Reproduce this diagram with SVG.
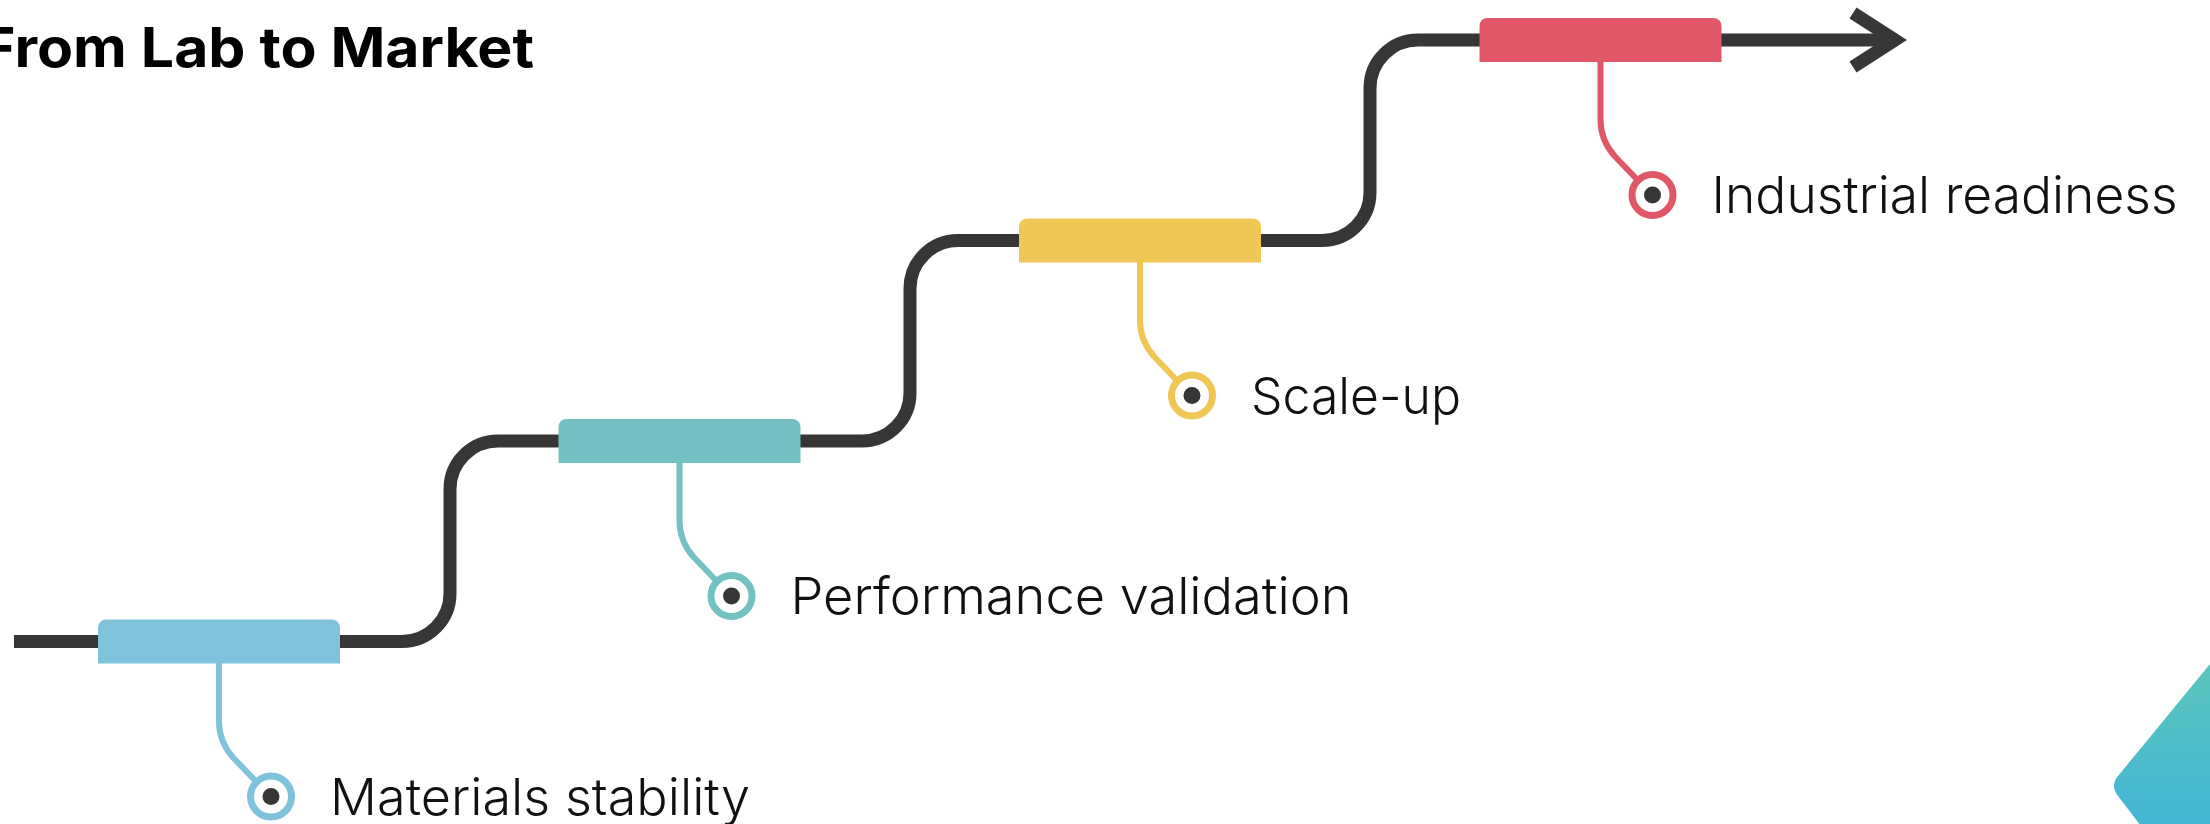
<svg xmlns="http://www.w3.org/2000/svg" width="2210" height="824" viewBox="0 0 2210 824">
  <defs>
    <linearGradient id="cornerGrad" x1="0" y1="0" x2="0" y2="1">
      <stop offset="0" stop-color="#5BC5BE"/>
      <stop offset="1" stop-color="#42B6D4"/>
    </linearGradient>
  </defs>
  <style>
    .track { fill: none; stroke: #363636; stroke-width: 13; stroke-linecap: butt; stroke-linejoin: miter; }
    .bar { stroke: none; }
    .stem { fill: none; stroke-width: 6; stroke-linecap: round; stroke-linejoin: round; }
    .ring { fill: #ffffff; stroke-width: 7; }
    .dot { fill: #363636; }
    .label { font-family: Inter, "Open Sans", Lato, "Liberation Sans", sans-serif; font-weight: 300; font-size: 51px; fill: #111111; }
    .title { font-family: Inter, "Open Sans", "Liberation Sans", sans-serif; font-weight: 700; font-size: 55px; fill: #000000; }
    .c1 .bar { fill: #7EC3DB; } .c1 .stem, .c1 .ring { stroke: #7EC3DB; }
    .c2 .bar { fill: #74C1C4; } .c2 .stem, .c2 .ring { stroke: #74C1C4; }
    .c3 .bar { fill: #F0C755; } .c3 .stem, .c3 .ring { stroke: #F0C755; }
    .c4 .bar { fill: #E05867; } .c4 .stem, .c4 .ring { stroke: #E05867; }
  </style>

  <rect width="2210" height="824" fill="#ffffff"/>

  <text class="title" x="534" y="67" text-anchor="end" textLength="553" lengthAdjust="spacingAndGlyphs">From Lab to Market</text>

  <!-- corner accent -->
  <path d="M2210,664 L2118,776 Q2110,786 2118,796 L2141,826 L2212,826 Z" fill="url(#cornerGrad)"/>

  <!-- stepped track with arrow -->
  <g id="connectors">
    <path class="track" d="M14,641.5 H402 A48,48 0 0 0 450,593.5 V489 A48,48 0 0 1 498,441 H862 A48,48 0 0 0 910,393 V288.5 A48,48 0 0 1 958,240.5 H1322 A48,48 0 0 0 1370,192.5 V88 A48,48 0 0 1 1418,40 H1896"/>
    <polyline class="track" points="1853,13 1895,40 1853,67"/>
  </g>

  <g id="node-materials" class="c1" transform="translate(98,641.5)">
    <path class="bar" d="M0,22 V-14 A8,8 0 0 1 8,-22 H234 A8,8 0 0 1 242,-14 V22 Z"/>
    <path class="stem" d="M121,22 V80 Q121,100 135,116 L160,142"/>
    <circle class="ring" cx="173" cy="155" r="20.5"/>
    <circle class="dot" cx="173" cy="155" r="8.5"/>
    <text class="label" x="232" y="173" textLength="420" lengthAdjust="spacingAndGlyphs">Materials stability</text>
  </g>

  <g id="node-performance" class="c2" transform="translate(558.5,441)">
    <path class="bar" d="M0,22 V-14 A8,8 0 0 1 8,-22 H234 A8,8 0 0 1 242,-14 V22 Z"/>
    <path class="stem" d="M121,22 V80 Q121,100 135,116 L160,142"/>
    <circle class="ring" cx="173" cy="155" r="20.5"/>
    <circle class="dot" cx="173" cy="155" r="8.5"/>
    <text class="label" x="232" y="173" textLength="561" lengthAdjust="spacingAndGlyphs">Performance validation</text>
  </g>

  <g id="node-scaleup" class="c3" transform="translate(1019,240.5)">
    <path class="bar" d="M0,22 V-14 A8,8 0 0 1 8,-22 H234 A8,8 0 0 1 242,-14 V22 Z"/>
    <path class="stem" d="M121,22 V80 Q121,100 135,116 L160,142"/>
    <circle class="ring" cx="173" cy="155" r="20.5"/>
    <circle class="dot" cx="173" cy="155" r="8.5"/>
    <text class="label" x="232" y="173" textLength="210" lengthAdjust="spacingAndGlyphs">Scale-up</text>
  </g>

  <g id="node-industrial" class="c4" transform="translate(1479.5,40)">
    <path class="bar" d="M0,22 V-14 A8,8 0 0 1 8,-22 H234 A8,8 0 0 1 242,-14 V22 Z"/>
    <path class="stem" d="M121,22 V80 Q121,100 135,116 L160,142"/>
    <circle class="ring" cx="173" cy="155" r="20.5"/>
    <circle class="dot" cx="173" cy="155" r="8.5"/>
    <text class="label" x="232" y="173" textLength="466" lengthAdjust="spacingAndGlyphs">Industrial readiness</text>
  </g>
</svg>
